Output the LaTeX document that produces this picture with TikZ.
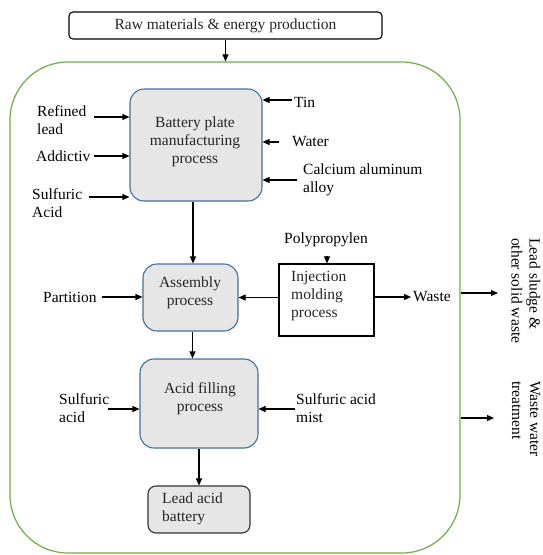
\documentclass[tikz,border=0pt]{standalone}
\usepackage{fontspec}
\setmainfont{Liberation Serif}
\usetikzlibrary{arrows.meta}
\definecolor{boxblue}{RGB}{65,113,156}
\definecolor{envgreen}{RGB}{112,173,71}
\definecolor{boxfill}{RGB}{230,230,230}
\begin{document}
\begin{tikzpicture}[x=1pt,y=-1pt,
  font=\fontsize{15.5}{18}\selectfont,
  arr/.style={-{Triangle[length=7pt,width=6pt]}, line width=1.1pt},
  procbox/.style={draw=boxblue, fill=boxfill, line width=1.1pt, rounded corners=14pt, inner sep=0pt},
  lbl/.style={inner sep=0pt, align=left},
  boxtxt/.style={inner sep=0pt, align=center, text=black!85},
  boxtxtl/.style={inner sep=0pt, align=left, text=black!85},
  sidetxt/.style={inner sep=0pt, align=left, rotate=-90, anchor=north west}]
\useasboundingbox (0,0) rectangle (542,555);

% top box and environment
\node[draw, line width=1.1pt, rounded corners=4pt, minimum width=313pt, minimum height=27pt, inner sep=0pt, text=black!85] (raw) at (225.5,25.5) {Raw materials \& energy production};
\node[draw=envgreen, line width=1.2pt, rounded corners=58pt, minimum width=450pt, minimum height=491pt, inner sep=0pt] (env) at (235,307.5) {};
\draw[arr] (raw.south) -- (raw.south |- env.north);

% process boxes
\node[procbox, minimum width=132pt, minimum height=112pt] (plate) at (196,145) {};
\node[boxtxt] (platet) at (195,141.5) {Battery plate\\manufacturing\\process};
\node[procbox, minimum width=95pt, minimum height=67pt] (asm) at (190.5,297.5) {};
\node[boxtxt] (asmt) at (190,292.5) {Assembly\\process};
\node[draw, line width=1.1pt, fill=white, minimum width=95pt, minimum height=72pt, inner sep=0pt] (inj) at (326.5,300) {};
\node[boxtxtl, anchor=west] (injt) at (291,296) {Injection\\molding\\process};
\node[procbox, minimum width=118pt, minimum height=89pt] (acid) at (199,403.5) {};
\node[boxtxt] (acidt) at (200,399) {Acid filling\\process};
\node[draw=black!80, fill=boxfill, line width=1.1pt, rounded corners=8pt, minimum width=102pt, minimum height=47pt, inner sep=0pt] (lead) at (199,509.5) {};
\node[boxtxtl, anchor=west] (leadt) at (162,509) {Lead acid\\battery};

% inputs to plate
\node[lbl, anchor=west] (rl) at (37,120) {Refined\\lead};
\coordinate (rlA) at (94,117);
\draw[arr] (rlA) -- (rlA -| plate.west);
\node[lbl, anchor=west] (add) at (36,156) {Addictiv};
\coordinate (addA) at (94,156);
\draw[arr] (addA) -- (addA -| plate.west);
\node[lbl, anchor=west] (sulf) at (32,203) {Sulfuric\\Acid};
\coordinate (sulfA) at (89,197);
\draw[arr] (sulfA) -- (sulfA -| plate.west);
\node[lbl, anchor=west] (tin) at (294,102) {Tin};
\coordinate (tinA) at (292,100);
\draw[arr] (tinA) -- (tinA -| plate.east);
\node[lbl, anchor=west] (water) at (292,142) {Water};
\coordinate (waterA) at (279,142);
\draw[arr] (waterA) -- (waterA -| plate.east);
\node[lbl, anchor=west] (calc) at (303,180) {Calcium aluminum\\alloy};
\coordinate (calcA) at (297,180);
\draw[arr] (calcA) -- (calcA -| plate.east);

% plate to assembly
\draw[arr] ([xshift=-3pt]plate.south) -- ([xshift=-3pt]plate.south |- asm.north);

% assembly inputs
\node[lbl, anchor=west] (part) at (43,297) {Partition};
\coordinate (partA) at (102,297);
\draw[arr] (partA) -- (partA -| asm.west);
\node[lbl] (poly) at (326,240) {Polypropylen};
\coordinate (polyA) at (327,256);
\draw[arr] (polyA) -- (polyA |- inj.north);
\draw[arr] (inj.west |- asm.east) -- (asm.east);
\node[lbl, anchor=west] (waste) at (413,297) {Waste};
\draw[arr] (inj.east |- waste.west) -- ([xshift=-2pt]waste.west);

% assembly to acid filling
\draw[arr] ([xshift=2pt]asm.south) -- ([xshift=2pt]asm.south |- acid.north);

% acid filling side labels
\node[lbl, anchor=west] (sa) at (59,408.5) {Sulfuric\\acid};
\coordinate (saA) at (108,409);
\draw[arr] (saA) -- (saA -| acid.west);
\node[lbl, anchor=west] (mist) at (296,408.5) {Sulfuric acid\\mist};
\coordinate (mistA) at (295,409);
\draw[arr] (mistA) -- (mistA -| acid.east);

% acid filling to battery
\draw[arr] (acid.south) -- (acid.south |- lead.north);

% outputs
\coordinate (o1) at (498,293);
\draw[arr] (env.east |- o1) -- (o1);
\coordinate (o2) at (494,418);
\draw[arr] (env.east |- o2) -- (o2);
\node[sidetxt] (sludge) at (540.5,238) {Lead sludge \&\\other solid waste};
\node[sidetxt] (ww) at (540.5,381) {Waste water\\treatment};
\end{tikzpicture}
\end{document}
